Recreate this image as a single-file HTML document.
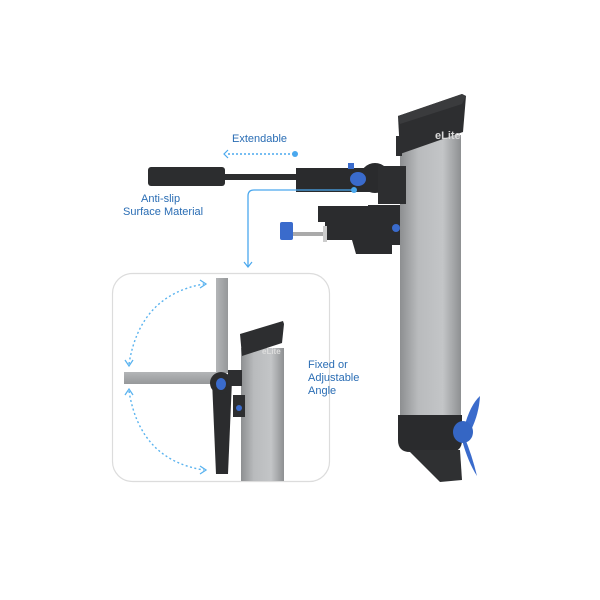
<!DOCTYPE html>
<html><head><meta charset="utf-8"><style>
html,body{margin:0;padding:0;background:#fff;}
svg{display:block;}
text{font-family:"Liberation Sans",sans-serif;fill:#2a6db4;font-size:11px;}
</style></head><body>
<svg width="600" height="600" viewBox="0 0 600 600" xmlns="http://www.w3.org/2000/svg">
<defs>
<linearGradient id="tube" x1="0" x2="1" y1="0" y2="0">
<stop offset="0" stop-color="#8d8f91"/><stop offset="0.3" stop-color="#b9bbbd"/><stop offset="0.7" stop-color="#c3c5c7"/><stop offset="1" stop-color="#8e9092"/>
</linearGradient>
<linearGradient id="bar" x1="0" x2="0" y1="0" y2="1">
<stop offset="0" stop-color="#b3b5b7"/><stop offset="1" stop-color="#96989a"/>
</linearGradient>
<linearGradient id="vbar" x1="0" x2="1" y1="0" y2="0">
<stop offset="0" stop-color="#b3b5b7"/><stop offset="1" stop-color="#96989a"/>
</linearGradient>
</defs>
<!-- main tube -->
<rect x="400" y="135" width="61" height="285" fill="url(#tube)"/>
<polygon points="398,116 462,94 466,96 463,132 400,154" fill="#2d2e30"/>
<polygon points="398,116 462,94 466,96 462,104 400,124" fill="#3a3b3d"/>
<text x="435" y="139" style="fill:#d8d8d8;font-size:11px;font-weight:bold">eLite</text>
<rect x="396" y="136" width="6" height="20" fill="#2d2e30"/>
<!-- bottom -->
<path d="M398,415 H462 V440 Q462,452 450,452 H410 Q398,452 398,440 Z" fill="#2a2b2d"/>
<polygon points="408,450 460,450 462,480 440,482" fill="#2f3032"/>
<path d="M464,428 Q470,405 480,396 Q479,414 471,430 Z" fill="#3a6bcc"/>
<path d="M464,436 Q472,455 477,476 Q468,462 462,440 Z" fill="#3a6bcc"/>
<ellipse cx="463" cy="432" rx="10" ry="11" fill="#3566c4"/>
<!-- handle -->
<rect x="148" y="167" width="77" height="19" rx="3" fill="#2c2d2f"/>
<rect x="224" y="174" width="75" height="6" fill="#2c2d2f"/>
<path d="M296,168 H370 L380,192 H296 Z" fill="#2a2b2d"/>
<circle cx="375" cy="178" r="15" fill="#2a2b2d"/>
<ellipse cx="358" cy="179" rx="8" ry="7" fill="#3a6bcc"/>
<rect x="348" y="163" width="6" height="6" fill="#3a6bcc"/>
<rect x="378" y="166" width="28" height="38" fill="#2d2e30"/>
<!-- clamp -->
<path d="M318,206 H368 V222 H392 V254 H356 L352,240 H325 V222 H318 Z" fill="#2b2c2e"/>
<rect x="368" y="205" width="32" height="40" fill="#2b2c2e"/>
<circle cx="396" cy="228" r="4" fill="#3a6bcc"/>
<rect x="292" y="232" width="32" height="4" fill="#aaa"/>
<rect x="280" y="222" width="13" height="18" rx="2" fill="#3a6bcc"/>
<rect x="323" y="226" width="4" height="16" fill="#ccc"/>
<!-- labels -->
<text x="232" y="142">Extendable</text>
<line x1="294" y1="154" x2="228" y2="154" stroke="#4aa8ee" stroke-width="1.5" stroke-dasharray="2,2"/>
<circle cx="295" cy="154" r="3" fill="#4aa8ee"/>
<polyline points="228,150 224,154 228,158" fill="none" stroke="#4aa8ee" stroke-width="1.2"/>
<text x="141" y="202">Anti-slip</text>
<text x="123" y="215">Surface Material</text>
<path d="M354,190 H254 Q248,190 248,196 V266" fill="none" stroke="#4aa8ee" stroke-width="1.3"/>
<circle cx="354" cy="190" r="3" fill="#4aa8ee"/>
<polyline points="244,262 248,267 252,262" fill="none" stroke="#4aa8ee" stroke-width="1.2"/>
<!-- inset -->
<rect x="112.5" y="273.5" width="217" height="208" rx="20" fill="#fff" stroke="#dcdcdc" stroke-width="1.2"/>
<rect x="241" y="348" width="43" height="133" fill="url(#tube)"/>
<polygon points="240,334 283,321 284,324 282,343 242,356" fill="#2d2e30"/>
<text x="262" y="354" style="fill:#ddd;font-size:8px;font-weight:bold">eLite</text>
<path d="M129,364 Q140,295 204,284" fill="none" stroke="#5ab3ef" stroke-width="1.4" stroke-dasharray="2,2.5"/>
<path d="M129,391 Q140,460 204,470" fill="none" stroke="#5ab3ef" stroke-width="1.4" stroke-dasharray="2,2.5"/>
<polyline points="200,280 206,284 200,288" fill="none" stroke="#5ab3ef" stroke-width="1.3"/>
<polyline points="200,466 206,470 200,474" fill="none" stroke="#5ab3ef" stroke-width="1.3"/>
<polyline points="125,360 129,366 133,360" fill="none" stroke="#5ab3ef" stroke-width="1.3"/>
<polyline points="125,395 129,389 133,395" fill="none" stroke="#5ab3ef" stroke-width="1.3"/>
<rect x="216" y="278" width="12" height="95" fill="url(#vbar)"/>
<rect x="124" y="372" width="96" height="12" fill="url(#bar)"/>
<path d="M212,380 H232 L228,474 H216 Z" fill="#2b2c2e"/>
<circle cx="221" cy="383" r="11" fill="#2b2c2e"/>
<rect x="228" y="370" width="14" height="16" fill="#2d2e30"/>
<ellipse cx="221" cy="384" rx="5" ry="6" fill="#3a6bcc"/>
<rect x="233" y="395" width="12" height="22" fill="#2d2e30"/>
<circle cx="239" cy="408" r="3" fill="#3a6bcc"/>
<text x="308" y="368">Fixed or</text>
<text x="308" y="381">Adjustable</text>
<text x="308" y="394">Angle</text>
</svg>
</body></html>
